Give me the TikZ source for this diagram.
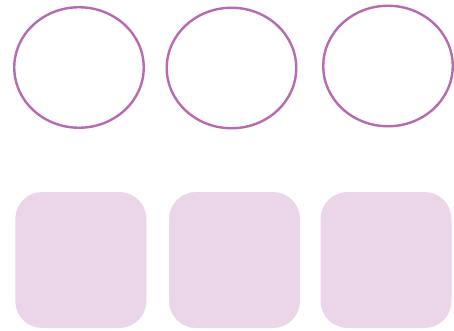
\documentclass[tikz,border=0pt]{standalone}
\usetikzlibrary{shapes.geometric}
\definecolor{ringpurple}{RGB}{184,106,176}
\definecolor{boxpurple}{RGB}{234,213,233}
\tikzset{
  ring/.style={ellipse, draw=ringpurple, line width=2.4pt, minimum width=129.5pt, minimum height=120.5pt, inner sep=0pt},
  tile/.style={rectangle, fill=boxpurple, rounded corners=27pt, minimum width=131pt, minimum height=136pt, inner sep=0pt}
}
\begin{document}
\begin{tikzpicture}[x=1pt,y=-1pt]
        \useasboundingbox (0,0) rectangle (454,331);
        \foreach \i/\x/\y in {1/79/67.5,2/231.5/68,3/388/66} {
                \node[ring] (c\i) at (\x,\y) {};
        }
        \foreach \i/\x in {1/80.8,2/234.5,3/386} {
                \node[tile] (s\i) at (\x,260) {};
        }
\end{tikzpicture}
\end{document}
